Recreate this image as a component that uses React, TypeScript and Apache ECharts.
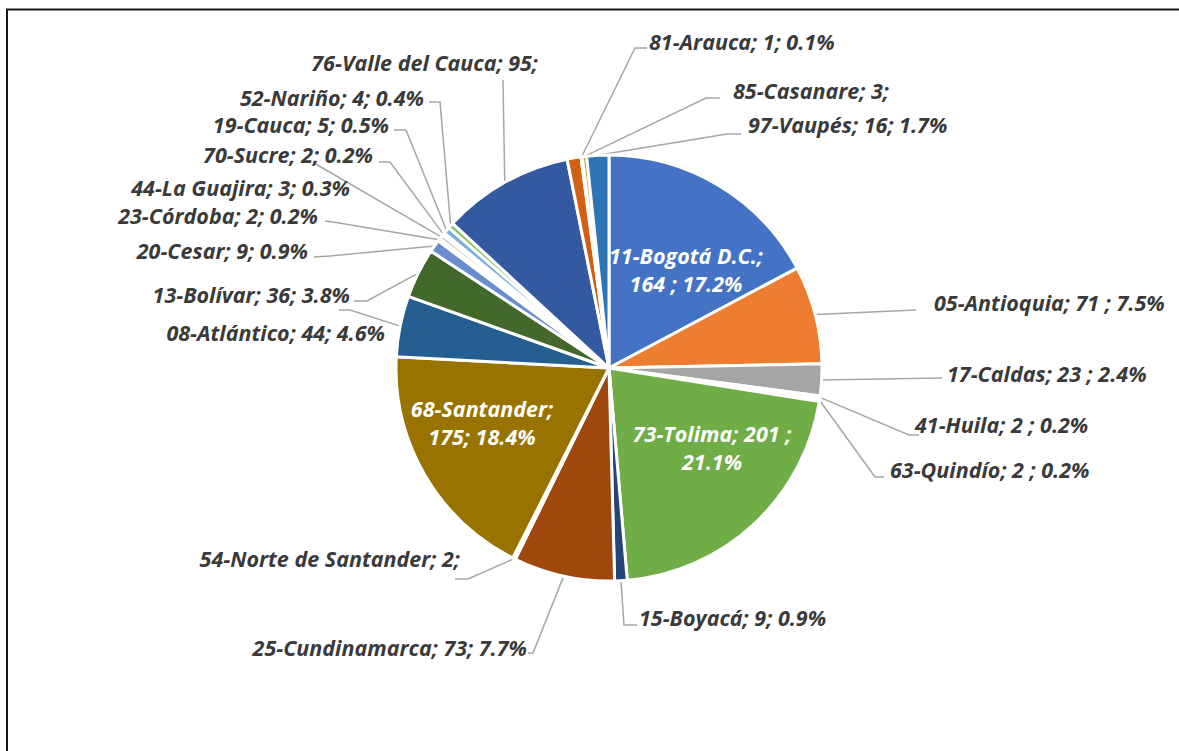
import React, { useEffect, useRef } from "react";
import * as echarts from "echarts";

// ---- data ----
const DEPARTMENTS = [
  "11-Bogotá D.C.",
  "05-Antioquia",
  "17-Caldas",
  "41-Huila",
  "63-Quindío",
  "73-Tolima",
  "15-Boyacá",
  "25-Cundinamarca",
  "54-Norte de Santander",
  "68-Santander",
  "08-Atlántico",
  "13-Bolívar",
  "20-Cesar",
  "23-Córdoba",
  "44-La Guajira",
  "70-Sucre",
  "19-Cauca",
  "52-Nariño",
  "76-Valle del Cauca",
  "Sin etiqueta",
  "81-Arauca",
  "85-Casanare",
  "97-Vaupés",
];
const CASES = [164, 71, 23, 2, 2, 201, 9, 73, 2, 175, 44, 36, 9, 2, 3, 2, 5, 4, 95, 10, 1, 3, 16];
// label text templates: {n}=name, {v}=value, {p}=percentage
const LABEL_FORMATS = [
  "{n};\n{v} ; {p}%",
  "{n}; {v} ; {p}%",
  "{n}; {v} ; {p}%",
  "{n}; {v} ; {p}%",
  "{n}; {v} ; {p}%",
  "{n}; {v} ;\n{p}%",
  "{n}; {v}; {p}%",
  "{n}; {v}; {p}%",
  "{n}; {v};",
  "{n};\n{v}; {p}%",
  "{n}; {v}; {p}%",
  "{n}; {v}; {p}%",
  "{n}; {v}; {p}%",
  "{n}; {v}; {p}%",
  "{n}; {v}; {p}%",
  "{n}; {v}; {p}%",
  "{n}; {v}; {p}%",
  "{n}; {v}; {p}%",
  "{n}; {v};",
  "",
  "{n}; {v}; {p}%",
  "{n}; {v};",
  "{n}; {v}; {p}%",
];
const COLORS = [
  "#4472C4", "#ED7D31", "#A5A5A5", "#FFC000", "#5B9BD5", "#70AD47",
  "#264478", "#9E480E", "#636363", "#997300", "#255E91", "#43682B",
  "#698ED0", "#F1975A", "#B7B7B7", "#FFCD33", "#7CAFDD", "#8CC168",
  "#335AA1", "#D26012", "#7C7C7C", "#BF9000", "#2E75B6",
];
const INSIDE = [0, 5, 9];

// ---- label layout (pixel positions of label texts and leader-line bends) ----
type LL = { x: number; y: number; align: string; elbow?: number[]; end?: number[] };
const LABEL_LAYOUT: (LL | null)[] = [
  { x: 686, y: 269, align: "center" },
  { x: 934, y: 302, align: "left", elbow: [916, 310], end: [916, 310] },
  { x: 947, y: 373, align: "left", elbow: [942, 378], end: [942, 378] },
  { x: 915, y: 424, align: "left", elbow: [909, 435], end: [919, 435] },
  { x: 890, y: 469, align: "left", elbow: [875, 477], end: [884, 477] },
  { x: 712, y: 447, align: "center" },
  { x: 639, y: 617, align: "left", elbow: [624, 625], end: [637, 625] },
  { x: 527, y: 647, align: "right", elbow: [533, 653], end: [528, 653] },
  { x: 460, y: 558, align: "right", elbow: [468, 579], end: [455, 579] },
  { x: 482, y: 422, align: "center" },
  { x: 385, y: 332, align: "right", elbow: [350, 310], end: [339, 310] },
  { x: 350, y: 294, align: "right", elbow: [367, 301], end: [354, 301] },
  { x: 308, y: 250, align: "right", elbow: [330, 256], end: [314, 257] },
  { x: 318, y: 215, align: "right", elbow: [333, 222], end: [325, 221] },
  { x: 350, y: 187, align: "right", elbow: [314, 163], end: [314, 163] },
  { x: 373, y: 154, align: "right", elbow: [390, 162], end: [379, 162] },
  { x: 389, y: 124, align: "right", elbow: [406, 130], end: [394, 130] },
  { x: 424, y: 97, align: "right", elbow: [440, 102], end: [429, 102] },
  { x: 538, y: 62, align: "right", elbow: [503, 80], end: [503, 80] },
  null,
  { x: 649, y: 41, align: "left", elbow: [635, 48], end: [647, 48] },
  { x: 733, y: 90, align: "left", elbow: [706, 98], end: [720, 98] },
  { x: 748, y: 124, align: "left", elbow: [727, 134], end: [741, 134] },
];

const TOTAL = CASES.reduce((a, b) => a + b, 0);

export default function App() {
  const ref = useRef<HTMLDivElement>(null);
  useEffect(() => {
    if (!ref.current) return;
    const chart = echarts.init(ref.current, null, { renderer: "svg" });
    const data = DEPARTMENTS.map((n, i) => {
      const inside = INSIDE.includes(i);
      const hidden = LABEL_FORMATS[i] === "";
      return {
        name: n,
        value: CASES[i],
        itemStyle: { color: COLORS[i] },
        label: hidden
          ? { show: false }
          : inside
          ? { position: "inside", color: "#ffffff" }
          : {},
        labelLine: { show: !hidden && !inside },
      };
    });
    chart.setOption({
      animation: false,
      backgroundColor: "#ffffff",
      graphic: [
        {
          type: "rect",
          silent: true,
          z: -10,
          shape: { x: 7, y: 9.5, width: 1400, height: 900 },
          style: { fill: "none", stroke: "#161616", lineWidth: 2 },
        },
      ],
      series: [
        {
          type: "pie",
          center: [609, 368],
          radius: 213,
          startAngle: 90,
          clockwise: true,
          avoidLabelOverlap: false,
          emphasis: { disabled: true },
          itemStyle: { borderColor: "#ffffff", borderWidth: 3 },
          label: {
            show: true,
            color: "#3a3a3a",
            fontFamily: "Open Sans",
            fontStyle: "italic",
            fontWeight: "bold",
            fontSize: 21.5,
            lineHeight: 28,
            formatter: (p: any) => {
              const i = p.dataIndex;
              const pct = ((CASES[i] / TOTAL) * 100).toFixed(1);
              return LABEL_FORMATS[i]
                .replace("{n}", DEPARTMENTS[i])
                .replace("{v}", String(CASES[i]))
                .replace("{p}", pct);
            },
          },
          labelLine: {
            show: true,
            length: 10,
            length2: 10,
            lineStyle: { color: "#A6A6A6", width: 1.5 },
          },
          labelLayout: (params: any) => {
            const L = LABEL_LAYOUT[params.dataIndex];
            if (!L) return {};
            const res: any = { x: L.x, y: L.y, align: L.align, verticalAlign: "middle" };
            if (L.end && params.labelLinePoints) {
              const a = params.labelLinePoints[0];
              res.labelLinePoints = [a, L.elbow, L.end];
            }
            return res;
          },
          data,
        },
      ],
    });
    return () => chart.dispose();
  }, []);
  return (
    <div
      ref={ref}
      style={{ position: "fixed", left: 0, top: 0, width: 1179, height: 751, background: "#fff" }}
    />
  );
}
